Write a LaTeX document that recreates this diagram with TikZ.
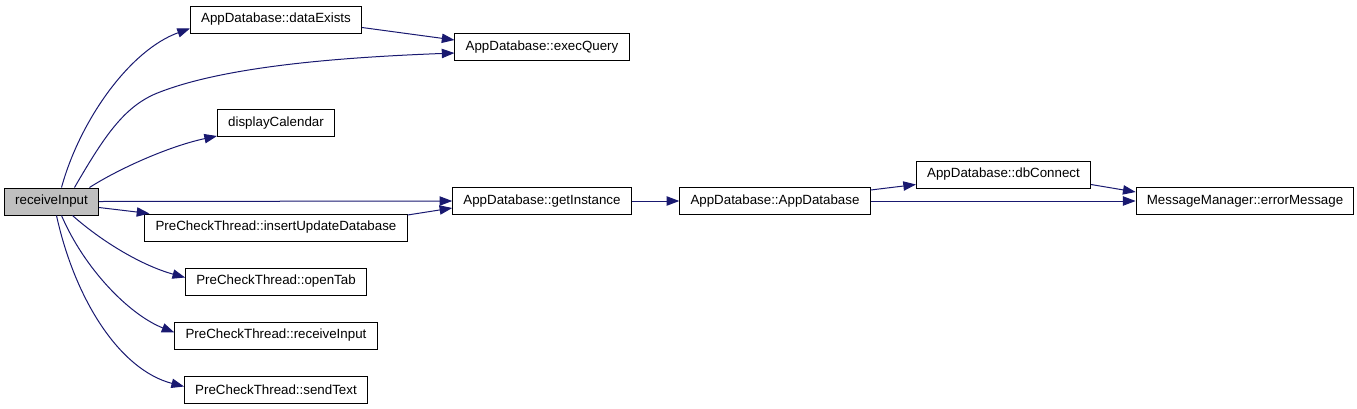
\documentclass[tikz,border=0pt]{standalone}
\usepackage{fontspec}
\setmainfont{Liberation Sans}
\usetikzlibrary{calc, positioning}
\usetikzlibrary{arrows.meta}
\definecolor{edgeblue}{HTML}{191970}
\begin{document}
\begin{tikzpicture}[x=0.75pt,y=-0.75pt,
  fn/.style={draw=black, line width=0.75pt, minimum height=20.25pt, inner xsep=8pt, inner ysep=0pt, font=\fontsize{10}{12}\selectfont},
  call/.style={draw=edgeblue, line width=0.75pt, -{Triangle[length=9.5pt,width=7pt]}}]
\useasboundingbox (0,0) rectangle (1357,408);
% functions
\node[fn, fill=black!25] (receiveInput) at (51.5,201.5) {receiveInput};
\node[fn] (dataExists) at (276,19.5) {AppDatabase::dataExists};
\node[fn] (execQuery) at (542,47) {AppDatabase::execQuery};
\node[fn] (displayCalendar) at (276,123) {displayCalendar};
\node[fn] (getInstance) at (542,201) {AppDatabase::getInstance};
\node[fn] (insertUpdate) at (276,227.5) {PreCheckThread::insertUpdateDatabase};
\node[fn] (openTab) at (276,281.5) {PreCheckThread::openTab};
\node[fn] (pcReceive) at (276,335.5) {PreCheckThread::receiveInput};
\node[fn] (sendText) at (276,389.5) {PreCheckThread::sendText};
\node[fn] (appDatabase) at (775,201) {AppDatabase::AppDatabase};
\node[fn] (dbConnect) at (1003.5,174.5) {AppDatabase::dbConnect};
\node[fn] (errorMessage) at (1245,201) {MessageManager::errorMessage};
% calls
\draw[call] ($(receiveInput.north)+(10,0)$) .. controls (80,120) and (130,50) .. ($(dataExists.south west)+(0,-5)$);
\draw[call] ($(receiveInput.north)+(23,0)$) .. controls (105,135) and (125,105) .. (160,92) .. controls (230,65) and (350,57) .. ($(execQuery.west)+(0,6)$);
\draw[call] ($(receiveInput.north)+(38,0)$) .. controls (120,168) and (170,146) .. ($(displayCalendar.south west)+(0,-1)$);
\draw[call] (receiveInput.east) -- (getInstance.west);
\draw[call] ($(receiveInput.east)+(0,6)$) -- ($(insertUpdate.north west)+(5,0)$);
\draw[call] ($(receiveInput.south)+(21,0)$) .. controls (100,240) and (140,265) .. ($(openTab.west)+(0,-4)$);
\draw[call] ($(receiveInput.south)+(10,0)$) .. controls (85,270) and (130,315) .. ($(pcReceive.west)+(0,-3)$);
\draw[call] ($(receiveInput.south)+(5,0)$) .. controls (75,300) and (120,370) .. ($(sendText.west)+(0,-3)$);
\draw[call] ($(dataExists.east)+(0,8)$) -- ($(execQuery.west)+(0,-7)$);
\draw[call] ($(insertUpdate.north east)+(0,1.5)$) -- ($(getInstance.west)+(0,7)$);
\draw[call] (getInstance.east) -- (appDatabase.west);
\draw[call] ($(appDatabase.east)+(0,-11)$) -- ($(dbConnect.west)+(0,10)$);
\draw[call] (appDatabase.east) -- (errorMessage.west);
\draw[call] ($(dbConnect.east)+(0,10)$) -- ($(errorMessage.west)+(0,-9)$);
\end{tikzpicture}
\end{document}
